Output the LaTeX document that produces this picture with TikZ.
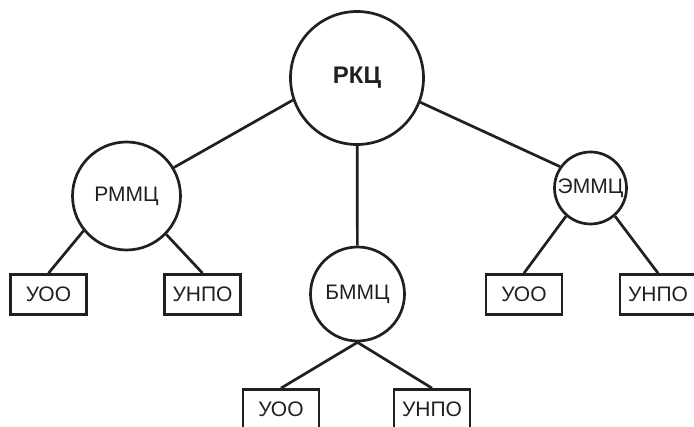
\documentclass[tikz,border=0pt]{standalone}
\usepackage{fontspec}
\setmainfont{Liberation Sans}
\usepackage{tikz}
\definecolor{ink}{RGB}{35,31,32}

\begin{document}
\begin{tikzpicture}[x=1pt,y=-1pt]
	\clip (0,0) rectangle (694,427);
	\begin{scope}[every node/.style = {circle, draw=ink, line width=2.7pt,
		inner sep=0pt, text=ink, font=\fontsize{21}{21}\selectfont}]
		\node[minimum size=133pt, font=\bfseries\fontsize{24}{24}\selectfont] (RK) at (357,78) {РКЦ};
		\node[minimum size=108pt] (PM) at (126.5,196) {РММЦ};
		\node[minimum size=94pt] (BM) at (357.5,294) {БММЦ};
		\node[minimum size=72pt] (EM) at (590.5,188) {ЭММЦ};
	\end{scope}
	\begin{scope}[every node/.style = {rectangle, draw=ink, line width=2.7pt,
		minimum width=76pt, minimum height=40pt, inner sep=0pt, text=ink,
		font=\fontsize{21}{21}\selectfont}]
		\node (PU1) at (48.5,294.5) {УОО};
		\node (PU2) at (202.5,294.5) {УНПО};
		\node (BU1) at (281,409.5) {УОО};
		\node (BU2) at (432,409.5) {УНПО};
		\node (EU1) at (524,294.5) {УОО};
		\node (EU2) at (658,294.5) {УНПО};
	\end{scope}
	\begin{scope}[every edge/.style={draw=ink, line width=2.7pt}]
		\path (RK.199) edge (PM.31);
		\path (RK) edge (BM);
		\path (RK.339) edge (EM.145);
		\path (PM.219) edge (PU1.north);
		\path (PM.316) edge (PU2.north);
		\path (BM.south) edge (BU1.north);
		\path (BM.south) edge (BU2.north);
		\path (EM.229) edge (EU1.north);
		\path (EM.311) edge (EU2.north);
	\end{scope}

\end{tikzpicture}
\end{document}
